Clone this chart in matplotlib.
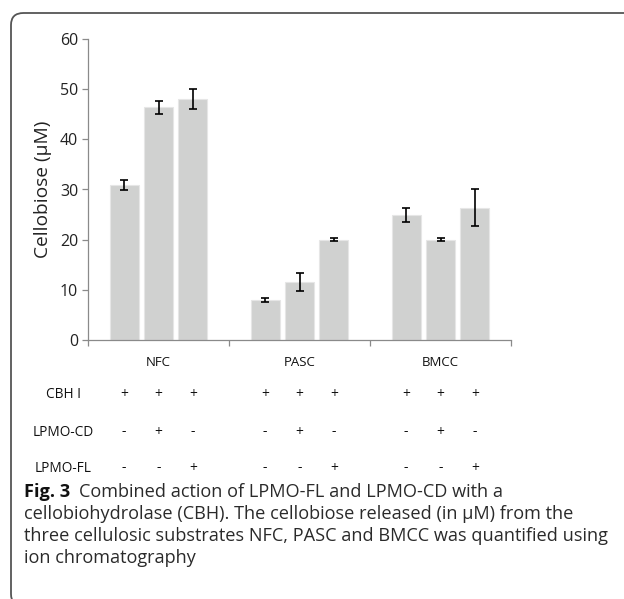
import matplotlib
matplotlib.use("Agg")
import matplotlib.pyplot as plt
import matplotlib.transforms as mtransforms
from matplotlib.patches import FancyBboxPatch
import numpy as np

# Data
substrates = ["NFC", "PASC", "BMCC"]
cellobiose = [
    [30.9, 46.4, 48.0],   # NFC
    [8.0, 11.6, 20.0],    # PASC
    [25.0, 20.0, 26.4],   # BMCC
]
errors = [
    [0.95, 1.3, 2.05],
    [0.35, 1.8, 0.35],
    [1.4, 0.3, 3.7],
]
row_labels = ["CBH I", "LPMO-CD", "LPMO-FL"]
row_signs = [
    ["+", "+", "+"],
    ["-", "+", "-"],
    ["-", "-", "+"],
]
caption_bold = "Fig. 3"
caption_lines = [
    "Combined action of LPMO-FL and LPMO-CD with a",
    "cellobiohydrolase (CBH). The cellobiose released (in \u00b5M) from the",
    "three cellulosic substrates NFC, PASC and BMCC was quantified using",
    "ion chromatography",
]

W, H = 624, 599
fig = plt.figure(figsize=(W / 100, H / 100), dpi=100)

def fx(px):
    return px / W

def fy(py):
    return 1 - py / H

chart_font = "Open Sans"
cap_font = "Open Sans"

ax = fig.add_axes([fx(88), fy(340), fx(511) - fx(88), fy(39) - fy(340)])

offsets = np.array([-0.244, 0.0, 0.244])
bar_w = 0.205
for i, name in enumerate(substrates):
    xs = i + offsets
    ax.bar(xs, cellobiose[i], width=bar_w, color="#d0d1d0",
           edgecolor="#e6e6e6", linewidth=0.8, zorder=2)
    ax.errorbar(xs, cellobiose[i], yerr=errors[i], fmt="none",
                ecolor="black", elinewidth=1.2, capsize=3, capthick=1.2,
                zorder=3)

ax.set_xlim(-0.5, 2.5)
ax.set_ylim(0, 60)
ax.set_yticks(range(0, 61, 10))
ax.set_xticks([-0.5, 0.5, 1.5, 2.5])
ax.set_xticklabels([])
for s in ["top", "right"]:
    ax.spines[s].set_visible(False)
for s in ["left", "bottom"]:
    ax.spines[s].set_color("#8a8a8a")
    ax.spines[s].set_linewidth(0.9)
ax.tick_params(axis="both", colors="#8a8a8a", length=4, width=0.9)
ax.tick_params(axis="y", labelcolor="#222222", labelsize=11.5, pad=3)
for lab in ax.get_yticklabels():
    lab.set_fontfamily(chart_font)
ax.set_ylabel("Cellobiose (\u00b5M)", fontsize=13.8, family=chart_font,
              color="#222222", labelpad=6)

# category labels and the treatment table under the axis
trans = mtransforms.blended_transform_factory(ax.transData, fig.transFigure)
for i, name in enumerate(substrates):
    ax.text(i, fy(363), name, transform=trans, ha="center", va="center",
            fontsize=9.5, family=chart_font, color="#111111")
row_y = [395, 432, 468]
for r, lab in enumerate(row_labels):
    fig.text(fx(63), fy(row_y[r]), lab, ha="center", va="center",
             fontsize=9.8, family=chart_font, color="#111111")
    for i in range(len(substrates)):
        for j, x0 in enumerate(i + offsets):
            ax.text(x0, fy(row_y[r]), row_signs[r][j], transform=trans,
                    ha="center", va="center", fontsize=10,
                    family=chart_font, color="#111111")

# caption
cap_x = fx(24)
cap_y = [492, 514, 536, 558]
cap_size = 13.1
bold = fig.text(cap_x, fy(cap_y[0]), caption_bold, ha="left", va="center",
                fontsize=cap_size, family=cap_font, weight="bold",
                color="#111111")
fig.canvas.draw()
bb = bold.get_window_extent(fig.canvas.get_renderer())
fig.text(bb.x1 / W + fx(9), fy(cap_y[0]), caption_lines[0], ha="left",
         va="center", fontsize=cap_size, family=cap_font, color="#2a2a2a")
for k in range(1, 4):
    fig.text(cap_x, fy(cap_y[k]), caption_lines[k], ha="left", va="center",
             fontsize=cap_size, family=cap_font, color="#2a2a2a")

# rounded frame, open to the right and bottom
frame = FancyBboxPatch((fx(11), fy(606)), fx(680) - fx(11), fy(13) - fy(606),
                       boxstyle="round,pad=0,rounding_size=0.02",
                       transform=fig.transFigure, fill=False,
                       edgecolor="#555555", linewidth=1.3, clip_on=False)
fig.patches.append(frame)

fig.savefig("out.png", dpi=100)
